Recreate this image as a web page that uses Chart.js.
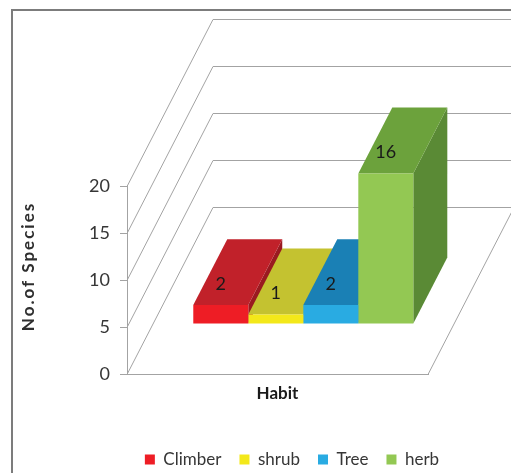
<!DOCTYPE html>
<html>
<head>
<meta charset="utf-8">
<script src="https://cdn.jsdelivr.net/npm/chart.js@4.4.1/dist/chart.umd.min.js"></script>
<style>
  html, body { margin: 0; padding: 0; background: #fff; overflow: hidden; }
  #viewport { position: relative; width: 511px; height: 473px; overflow: hidden; background: #fff; }
  #frame { position: absolute; left: 11px; top: 9px; width: 558px; height: 468px;
           border: 2px solid #7c7c7c; background: #fff; }
  canvas { display: block; }
</style>
</head>
<body>
<div id="viewport"><div id="frame"><canvas id="chart" width="558" height="468"></canvas></div></div>
<script>
// ---- data ----
const categories = ['Habit'];
const seriesNames = ['Climber', 'shrub', 'Tree', 'herb'];
const speciesCounts = [2, 1, 2, 16];
const yAxisMin = 0;
const yAxisMax = 20;
const yAxisStep = 5;
const yAxisTitle = 'No.of Species';

// ---- styling ----
const frontColors = ['#ee1d25', '#f3e81a', '#29abe2', '#93c853'];
const topColors   = ['#c1212a', '#c4c230', '#1a80b5', '#6ca23c'];
const sideColors  = ['#9a1a20', '#9f9d26', '#166a96', '#5a8a35'];
const gridColor = '#a3a3a3';
const textColor = '#363636';

// oblique projection of the depth axis (full floor depth)
const DEPTH = { dx: 86, dy: 167 };
const BAR_FRONT = 0.3;    // where the bar fronts sit along the depth
const BAR_DEPTH = 0.395;  // thickness of each bar along the depth

function fillPoly(ctx, pts, color) {
  ctx.beginPath();
  ctx.moveTo(pts[0][0], pts[0][1]);
  for (let i = 1; i < pts.length; i++) ctx.lineTo(pts[i][0], pts[i][1]);
  ctx.closePath();
  ctx.fillStyle = color;
  ctx.fill();
}

const box3d = {
  id: 'box3d',
  beforeDatasetsDraw(chart) {
    const { ctx, chartArea: a, scales: { y } } = chart;
    ctx.save();
    ctx.strokeStyle = gridColor;
    ctx.lineWidth = 1;
    // side wall diagonals + back wall lines for every tick
    y.ticks.forEach(t => {
      const py = Math.round(y.getPixelForValue(t.value)) + 0.5;
      ctx.beginPath();
      ctx.moveTo(a.left, py);
      ctx.lineTo(a.left + DEPTH.dx, py - DEPTH.dy);
      ctx.lineTo(a.right + DEPTH.dx, py - DEPTH.dy);
      ctx.stroke();
    });
    // right edge of the floor
    const fy = Math.round(a.bottom) + 0.5;
    ctx.beginPath();
    ctx.moveTo(a.right, fy);
    ctx.lineTo(a.right + DEPTH.dx, fy - DEPTH.dy);
    ctx.stroke();

    // right sides and tops of the boxes, left to right
    const ox = DEPTH.dx * BAR_FRONT, oy = DEPTH.dy * BAR_FRONT;
    const bx = DEPTH.dx * BAR_DEPTH, by = DEPTH.dy * BAR_DEPTH;
    chart.data.datasets.forEach((ds, i) => {
      chart.getDatasetMeta(i).data.forEach(el => {
        const p = el.getProps(['x', 'y', 'base', 'width'], true);
        const x0 = p.x - p.width / 2 + ox, x1 = p.x + p.width / 2 + ox;
        const yT = p.y - oy, yB = p.base - oy;
        fillPoly(ctx, [[x1, yT], [x1 + bx, yT - by], [x1 + bx, yB - by], [x1, yB]], sideColors[i]);
        fillPoly(ctx, [[x0, yT], [x1, yT], [x1 + bx, yT - by], [x0 + bx, yT - by]], topColors[i]);
      });
    });
    ctx.restore();
    // front faces are drawn by Chart.js, shifted back to the bar plane
    ctx.save();
    ctx.translate(ox, -oy);
  },
  afterDatasetsDraw(chart) {
    const { ctx } = chart;
    ctx.restore();
    const ox = DEPTH.dx * BAR_FRONT, oy = DEPTH.dy * BAR_FRONT;
    ctx.save();
    ctx.font = '18px Lato';
    ctx.fillStyle = '#1a1a1a';
    ctx.textAlign = 'center';
    ctx.textBaseline = 'middle';
    chart.data.datasets.forEach((ds, i) => {
      chart.getDatasetMeta(i).data.forEach((el, j) => {
        const p = el.getProps(['x', 'y'], true);
        ctx.fillText(String(ds.data[j]), p.x + ox, p.y - oy - 21);
      });
    });
    ctx.restore();
  },
  afterDraw(chart) {
    const { ctx } = chart;
    ctx.save();
    ctx.translate(20.5, 255.5);
    ctx.rotate(-Math.PI / 2);
    ctx.font = 'bold 17px Lato';
    ctx.letterSpacing = '2px';
    ctx.fillStyle = '#2e2e2e';
    ctx.textAlign = 'center';
    ctx.textBaseline = 'alphabetic';
    ctx.fillText(yAxisTitle, 0, 0);
    ctx.restore();
  }
};

new Chart(document.getElementById('chart'), {
  type: 'bar',
  data: {
    labels: categories,
    datasets: seriesNames.map((name, i) => ({
      label: name,
      data: [speciesCounts[i]],
      backgroundColor: frontColors[i],
      borderWidth: 0,
      barPercentage: 1,
      categoryPercentage: 0.731
    }))
  },
  options: {
    responsive: false,
    animation: false,
    events: [],
    layout: { padding: { top: 175, left: 0, right: 0, bottom: 1 } },
    plugins: {
      tooltip: { enabled: false },
      legend: {
        position: 'bottom',
        labels: {
          font: { family: 'Lato', size: 17 },
          color: textColor,
          boxWidth: 10,
          boxHeight: 10,
          padding: 18
        }
      }
    },
    scales: {
      x: {
        type: 'category',
        grid: { display: false, drawTicks: false },
        border: { display: true, color: gridColor },
        ticks: { font: { family: 'Lato', size: 17, weight: 'bold' }, color: '#1a1a1a', padding: 9, maxRotation: 0 },
        afterFit(s) { s.height = 59; }
      },
      y: {
        min: yAxisMin,
        max: yAxisMax,
        grid: { display: true, drawOnChartArea: false, drawTicks: true, tickLength: 7, color: gridColor },
        border: { display: true, color: gridColor },
        ticks: { stepSize: yAxisStep, font: { family: 'Lato', size: 18 }, color: textColor, padding: 10 },
        afterFit(s) { s.width = 114; }
      },
      pad: {
        type: 'linear',
        position: 'right',
        display: true,
        grid: { display: false, drawTicks: false },
        border: { display: false },
        ticks: { display: false },
        afterFit(s) { s.width = 143; }
      }
    }
  },
  plugins: [box3d]
});
</script>
</body>
</html>
